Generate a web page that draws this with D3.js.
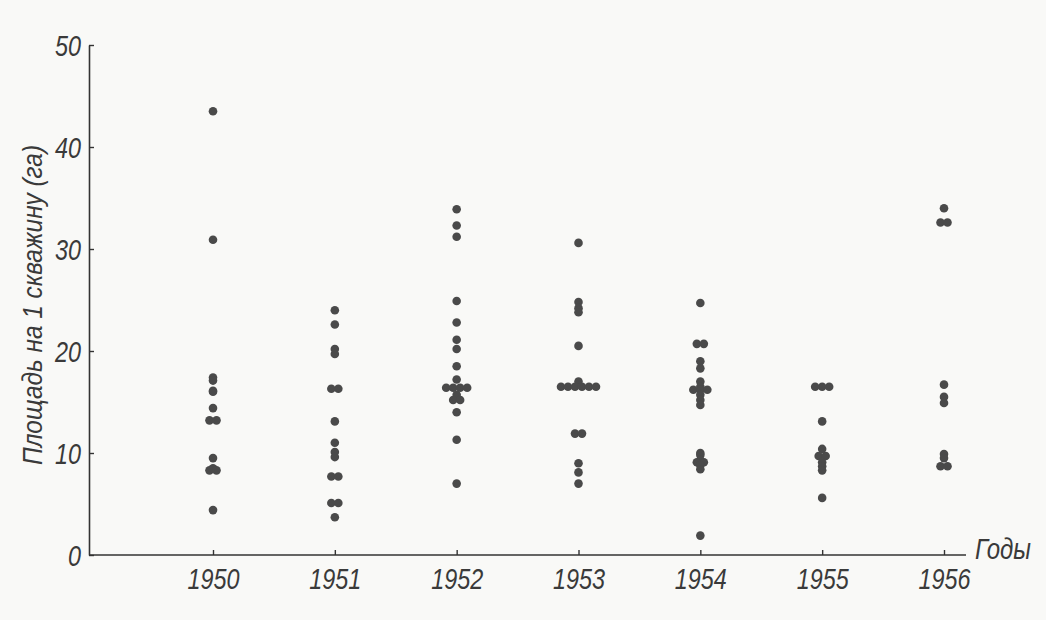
<!DOCTYPE html>
<html>
<head>
<meta charset="utf-8">
<script src="https://cdn.jsdelivr.net/npm/d3@7"></script>
<style>
  html, body { margin: 0; padding: 0; background: #f9f9f7; }
  svg { display: block; }
  text { font-family: "Liberation Sans", Arial, sans-serif; font-style: italic; fill: #3a3a3a; }
</style>
</head>
<body>
<svg id="chart" width="1046" height="620"></svg>
<script>
// ---- data ----
const years = [1950, 1951, 1952, 1953, 1954, 1955, 1956];
const yTicks = [0, 10, 20, 30, 40, 50];
const yLabel = "Площадь на 1 скважину (га)";
const xLabel = "Годы";

const v1950 = [43.5, 30.9, 17.4, 17.1, 16.1, 16.0, 14.4, 13.2, 13.2, 9.5, 8.5, 8.3, 8.3, 4.4];
const v1951 = [24.0, 22.6, 20.2, 19.7, 16.3, 16.3, 13.1, 11.0, 10.1, 9.6, 7.7, 7.7, 5.1, 5.1, 3.7];
const v1952 = [33.9, 32.3, 31.2, 24.9, 22.8, 21.1, 20.2, 18.5, 17.2, 16.4, 16.4, 16.4, 16.4, 15.7, 15.2, 15.2, 14.0, 11.3, 7.0];
const v1953 = [30.6, 24.8, 24.2, 23.8, 20.5, 17.0, 16.5, 16.5, 16.5, 16.5, 16.5, 16.5, 11.9, 11.9, 9.0, 8.1, 7.0];
const v1954 = [24.7, 20.7, 20.7, 19.0, 18.3, 17.0, 16.5, 16.2, 16.2, 16.2, 15.7, 15.2, 14.7, 10.0, 9.8, 9.3, 9.1, 9.1, 8.8, 8.4, 1.9];
const v1955 = [16.5, 16.5, 16.5, 13.1, 10.4, 9.7, 9.7, 9.1, 8.7, 8.3, 5.6];
const v1956 = [34.0, 32.6, 32.6, 16.7, 15.5, 14.9, 9.9, 9.5, 8.7, 8.7];

const valuesByYear = [v1950, v1951, v1952, v1953, v1954, v1955, v1956];

// ---- layout ----
const svg = d3.select("#chart");
const axisLeftX = 89, axisRightX = 966, axisBottomY = 555, axisTopY = 45;
const dotR = 4.3, dupStep = 7;

const x = d3.scaleLinear().domain([1950, 1956]).range([213, 944]);
const y = d3.scaleLinear().domain([0, 50]).range([axisBottomY, axisTopY]);

// points: identical values in a year are placed side by side
const points = [];
years.forEach((yr, i) => {
  const groups = d3.group(valuesByYear[i], v => v);
  groups.forEach((arr, v) => {
    const n = arr.length;
    arr.forEach((_, k) => points.push({ year: yr, value: v, dx: (k - (n - 1) / 2) * dupStep }));
  });
});

// y axis
const gy = svg.append("g").attr("transform", `translate(${axisLeftX},0)`)
  .call(d3.axisLeft(y).tickValues(yTicks).tickSizeInner(-5).tickSizeOuter(0).tickPadding(8));
gy.select(".domain").attr("stroke", "#333").attr("stroke-width", 1.6);
gy.selectAll(".tick line").attr("stroke", "#333").attr("stroke-width", 1.4);
gy.selectAll(".tick text").style("font-size", "30px").attr("fill", "#3a3a3a")
  .attr("x", -8).attr("dy", "0.36em")
  .attr("textLength", d => String(d).length * 13)
  .attr("lengthAdjust", "spacingAndGlyphs");

// x axis
const gx = svg.append("g").attr("transform", `translate(0,${axisBottomY})`)
  .call(d3.axisBottom(x).tickValues(years).tickFormat(d3.format("d")).tickSizeInner(-5).tickSizeOuter(0).tickPadding(13));
gx.select(".domain").remove();
gx.append("line").attr("x1", axisLeftX).attr("x2", axisRightX).attr("y1", 0).attr("y2", 0)
  .attr("stroke", "#333").attr("stroke-width", 1.6);
gx.selectAll(".tick line").attr("stroke", "#333").attr("stroke-width", 1.4);
gx.selectAll(".tick text").style("font-size", "30px").attr("fill", "#3a3a3a")
  .attr("textLength", 52).attr("lengthAdjust", "spacingAndGlyphs");

// axis titles
svg.append("text").attr("x", axisRightX + 9).attr("y", axisBottomY - 6)
  .attr("dy", "0.36em").style("font-size", "29px")
  .attr("textLength", 56).attr("lengthAdjust", "spacingAndGlyphs").text(xLabel);
svg.append("text").attr("transform", `translate(32,305) rotate(-90)`)
  .attr("text-anchor", "middle").attr("dy", "0.36em").style("font-size", "27px")
  .attr("textLength", 320).attr("lengthAdjust", "spacingAndGlyphs").text(yLabel);

// dots
svg.append("g").selectAll("circle").data(points).join("circle")
  .attr("cx", d => x(d.year) + d.dx)
  .attr("cy", d => y(d.value))
  .attr("r", dotR)
  .attr("fill", "#4a4a4a");
</script>
</body>
</html>
